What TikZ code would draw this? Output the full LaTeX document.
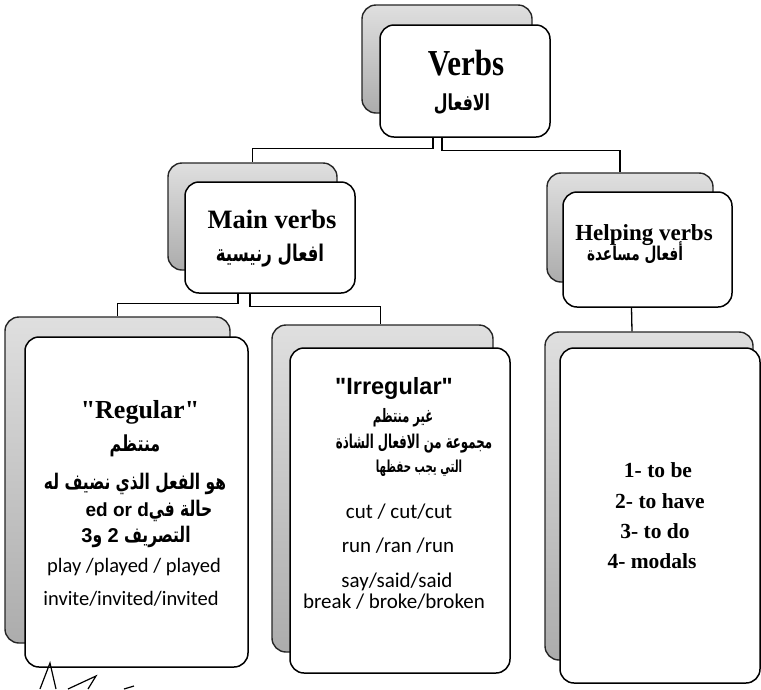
\documentclass[tikz,border=0pt]{standalone}
\usepackage{fontspec}
\usepackage{graphicx}
\setmainfont{Liberation Serif}
\newfontfamily\timesfont{Liberation Serif}
\newfontfamily\arabicfont[Script=Arabic, FakeStretch=0.72]{DejaVu Sans}
\newfontfamily\arabicfontc[Script=Arabic, FakeStretch=0.62]{DejaVu Sans}
\newfontfamily\calibrifont{Carlito}
\newfontfamily\arialfont{Liberation Sans}
\TeXXeTstate=1
\newcommand{\fsz}[1]{\fontsize{#1}{#1}\selectfont}
\begin{document}
\begin{tikzpicture}[x=1pt,y=-1pt,
  backbox/.style={draw=black!85, line width=1.4pt, rounded corners=14pt,
     top color=gray!25, bottom color=gray!65},
  frontbox/.style={draw=black, line width=1.5pt, rounded corners=14pt, fill=white},
  conn/.style={draw=black, line width=1.3pt},
  txt/.style={anchor=base, inner sep=0pt},
  ar/.style={txt, font=\arabicfont\bfseries},
  sr/.style={txt, font=\bfseries},
  cal/.style={txt, font=\calibrifont\fsz{20.5}}
]
\fill[white] (0,0) rectangle (761,689);
\useasboundingbox (0,0) rectangle (761,689);

% back boxes
\node[backbox, minimum width=170pt, minimum height=108pt] (vb) at (447,59) {};
\node[backbox, minimum width=169pt, minimum height=107pt] (mb) at (252.5,216.5) {};
\node[backbox, minimum width=166pt, minimum height=109pt] (hb) at (630,227.5) {};
\node[backbox, minimum width=225pt, minimum height=326pt] (rb) at (117.5,480) {};
\node[backbox, minimum width=221pt, minimum height=327pt] (ib) at (382.5,488.5) {};
\node[backbox, minimum width=208pt, minimum height=328pt] (lb) at (649,496) {};

% front boxes
\node[frontbox, minimum width=170pt, minimum height=112pt] (vf) at (465,81) {};
\node[frontbox, minimum width=170pt, minimum height=111pt] (mf) at (270,237.5) {};
\node[frontbox, minimum width=169pt, minimum height=115pt] (hf) at (647.5,249.5) {};
\node[frontbox, minimum width=223pt, minimum height=330pt] (rf) at (136.5,502) {};
\node[frontbox, minimum width=220pt, minimum height=325pt] (irf) at (400,510.5) {};
\node[frontbox, minimum width=200pt, minimum height=335pt] (lf) at (660,515.5) {};

% connectors
\draw[conn] ([xshift=-32pt]vf.south) -- ++(0,11) -| (mb.north);
\draw[conn] ([xshift=-23pt]vf.south) -- ++(0,13) -| ([xshift=-10pt]hb.north);
\draw[conn] ([xshift=-32pt]mf.south) -- ++(0,10) -| (rb.north);
\draw[conn] ([xshift=-20pt]mf.south) -- ++(0,13) -| ([xshift=-2pt]ib.north);
\draw[conn] ([xshift=-16pt]hf.south) -- ([xshift=-17pt]lb.north);

% texts: Verbs
\node[sr, font=\bfseries\fsz{31}] (t1) at (466,75) {\scalebox{1}[1.18]{Verbs}};
\node[ar, font=\arabicfont\bfseries\fsz{22}] (t2) at (462,110) {\beginR الافعال\endR};
% Main verbs
\node[sr, font=\bfseries\fsz{26.5}] (t3) at (272,228) {Main verbs};
\node[ar, font=\arabicfont\bfseries\fsz{23}] (t4) at (270,261) {\beginR افعال رنيسية\endR};
% Helping verbs
\node[sr, font=\bfseries\fsz{23}] (t5) at (644,240) {Helping verbs};
\node[ar, font=\arabicfont\bfseries\fsz{19}] (t6) at (635,260) {\beginR أفعال مساعدة\endR};
% Regular
\node[sr, font=\timesfont\bfseries\fsz{26}] (t7) at (140,418) {"Regular"};
\node[ar, font=\arabicfont\bfseries\fsz{22}] (t8) at (135,451) {\beginR منتظم\endR};
\node[ar, font=\arabicfont\bfseries\fsz{21.5}] (t9) at (135,489) {\beginR هو الفعل الذي نضيف له\endR};
\node[ar, font=\arabicfont\bfseries\fsz{21.5}] (t10) at (149,516) {\beginR حالة في\beginL{\arialfont\fsz{19}ed or d}\endL\endR};
\node[ar, font=\arabicfont\bfseries\fsz{21.5}] (t11) at (136,542) {\beginR التصريف {\arialfont\fsz{20}2} و{\arialfont\fsz{20}3}\endR};
\node[cal] (t12) at (134,572) {play /played / played};
\node[cal] (t13) at (131,605) {invite/invited/invited};
% Irregular
\node[txt, font=\arialfont\bfseries\fsz{23.5}] (t14) at (394,394) {"Irregular"};
\node[ar, font=\arabicfontc\bfseries\fsz{18.5}] (t15) at (403,422) {\beginR غير منتظم\endR};
\node[ar, font=\arabicfontc\bfseries\fsz{19}] (t16) at (414,448) {\beginR مجموعة من الافعال الشاذة\endR};
\node[ar, font=\arabicfontc\bfseries\fsz{16.5}] (t17) at (419,472) {\beginR التي يجب حفظها\endR};
\node[cal, font=\calibrifont\fsz{21}] (t18) at (399,518) {cut / cut/cut};
\node[cal, font=\calibrifont\fsz{21}] (t19) at (398,552) {run /ran /run};
\node[cal, font=\calibrifont\fsz{21}] (t20) at (397,587) {say/said/said};
\node[cal, font=\calibrifont\fsz{21}] (t21) at (394,608) {break / broke/broken};
% Helping list
\node[sr, font=\bfseries\fsz{21.5}] (t22) at (658,477) {1- to be};
\node[sr, font=\bfseries\fsz{21.5}] (t23) at (660,508) {2- to have};
\node[sr, font=\bfseries\fsz{21.5}] (t24) at (655,538) {3- to do};
\node[sr, font=\bfseries\fsz{21.5}] (t25) at (652,568) {4- modals};

% partial shape at bottom left
\draw[line width=1.2pt] (40,689) -- (50,663) -- (56,689);
\draw[line width=1.2pt] (68,689) -- (96,676) -- (88,689);
\draw[line width=1.2pt] (124,689) -- (134,686);
\end{tikzpicture}
\end{document}
